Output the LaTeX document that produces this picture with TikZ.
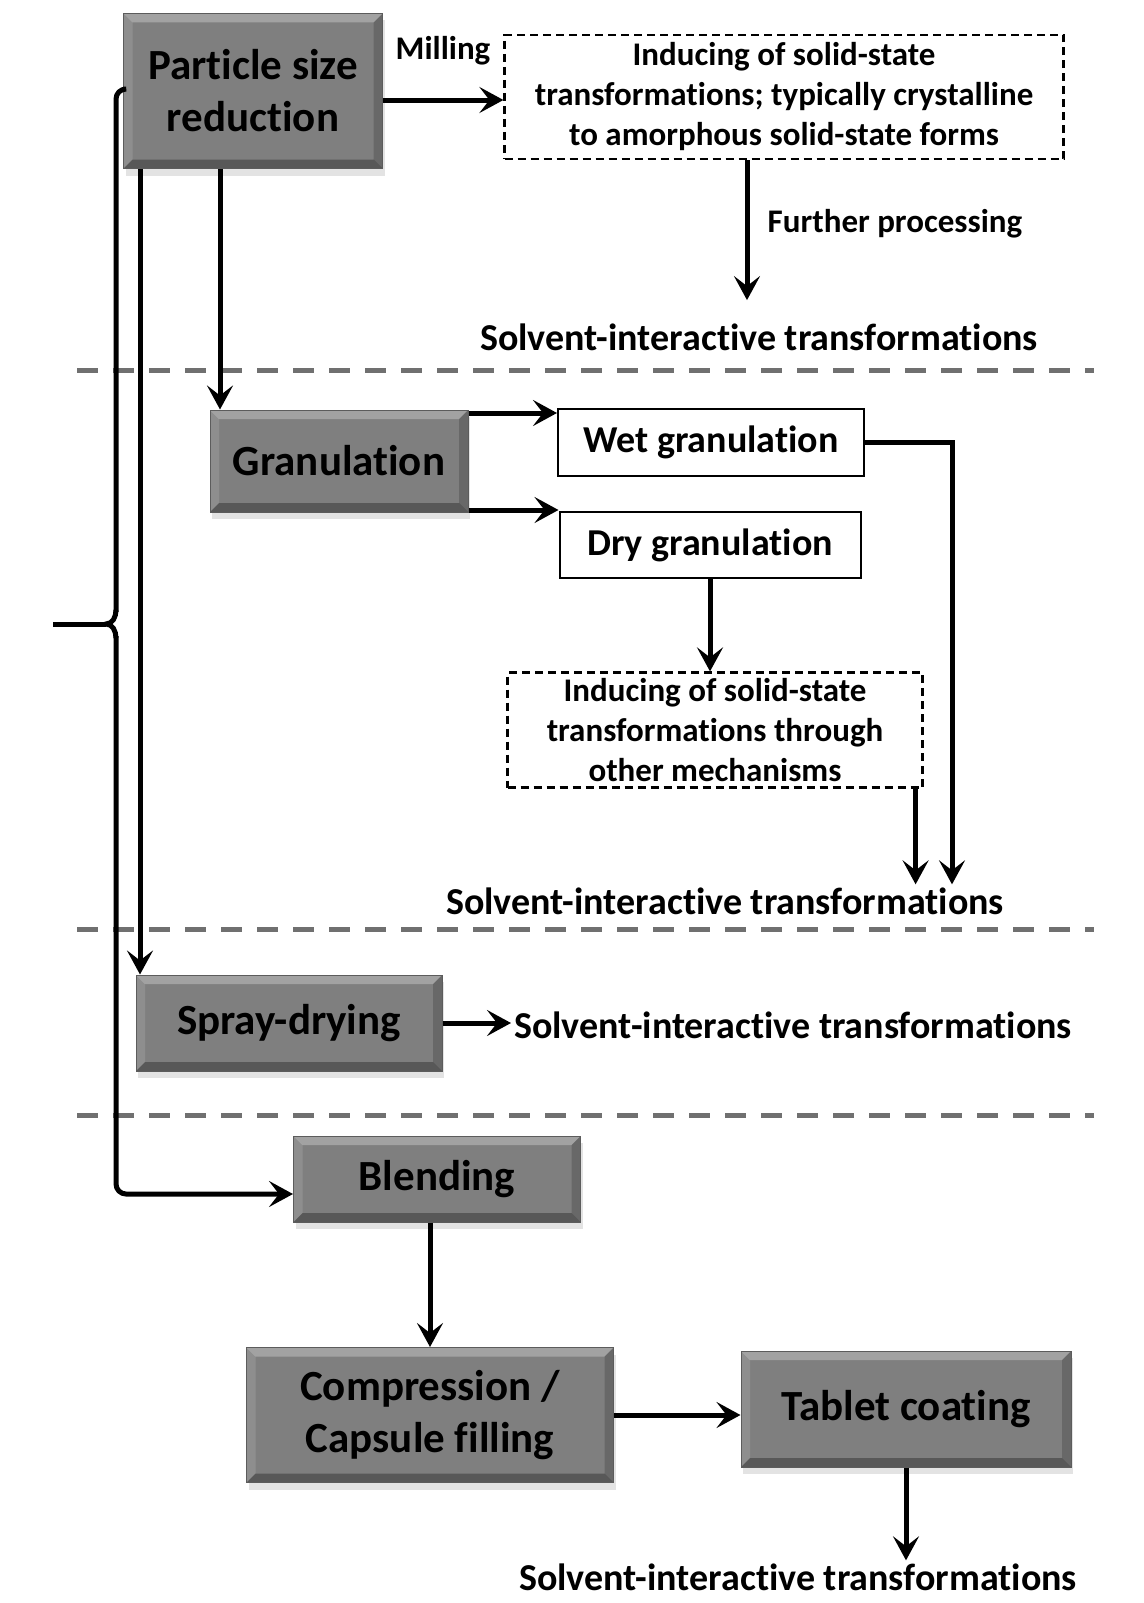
\documentclass[tikz,border=0pt]{standalone}
\usepackage{fontspec}
\setmainfont{Carlito}[Ligatures=NoCommon]
\usetikzlibrary{arrows.meta,positioning,shadows}
\definecolor{boxgray}{HTML}{7F7F7F}
\definecolor{boxedge}{HTML}{5C5C5C}
\definecolor{sepgray}{HTML}{707070}
\newcommand{\bigtxt}{\fontsize{43}{52}\selectfont\bfseries}
\newcommand{\midtxt}{\fontsize{38}{46}\selectfont\bfseries}
\newcommand{\smalltxt}{\fontsize{33}{40}\selectfont\bfseries}
\tikzset{
  bevel/.style={path picture={
    \fill[white,opacity=0.28] (path picture bounding box.north west) -- (path picture bounding box.north east)
      -- ([shift={(-9pt,-9pt)}]path picture bounding box.north east) -- ([shift={(9pt,-9pt)}]path picture bounding box.north west) -- cycle;
    \fill[white,opacity=0.12] (path picture bounding box.north west) -- (path picture bounding box.south west)
      -- ([shift={(9pt,9pt)}]path picture bounding box.south west) -- ([shift={(9pt,-9pt)}]path picture bounding box.north west) -- cycle;
    \fill[black,opacity=0.30] (path picture bounding box.south west) -- (path picture bounding box.south east)
      -- ([shift={(-9pt,9pt)}]path picture bounding box.south east) -- ([shift={(9pt,9pt)}]path picture bounding box.south west) -- cycle;
    \fill[black,opacity=0.18] (path picture bounding box.north east) -- (path picture bounding box.south east)
      -- ([shift={(-9pt,9pt)}]path picture bounding box.south east) -- ([shift={(-9pt,-9pt)}]path picture bounding box.north east) -- cycle;
  }},
  procbox/.style={draw=boxedge, fill=boxgray, line width=1pt, inner sep=0pt, align=center, font=\bigtxt,
    drop shadow={shadow xshift=2pt, shadow yshift=-7pt, opacity=0.22}, bevel},
  whitebox/.style={draw=black, fill=white, line width=2pt, inner sep=0pt, font=\midtxt},
  notebox/.style={draw=black, line width=2.2pt, dash pattern=on 8pt off 5pt, inner sep=0pt, align=center, font=\smalltxt},
  solvtxt/.style={font=\midtxt, inner sep=3pt},
  labtxt/.style={font=\smalltxt, inner sep=0pt},
  line/.style={line width=5pt},
  arr/.style={line, -{Stealth[length=24pt,width=26pt,inset=10pt]}},
  sep/.style={sepgray, line width=5pt, dash pattern=on 21pt off 15pt}
}
\begin{document}
\begin{tikzpicture}[x=1pt,y=-1pt]
  \useasboundingbox (0,0) rectangle (1143,1603);

  % separators
  \draw[sep] (77,370) -- (1094,370);
  \draw[sep] (77,929) -- (1094,929);
  \draw[sep] (77,1115) -- (1094,1115);

  % process steps
  \node[procbox, minimum width=259pt, minimum height=155pt] (psr) at (253,91) {Particle size\\reduction};
  \node[procbox, minimum width=258pt, minimum height=102pt] (gran) at (339,461) {Granulation};
  \node[procbox, minimum width=306pt, minimum height=96pt] (spray) at (289,1023) {Spray-drying};
  \node[procbox, minimum width=287pt, minimum height=86pt] (blend) at (437,1179) {Blending};
  \node[procbox, minimum width=367pt, minimum height=135pt] (comp) at (430,1415) {Compression /\\Capsule filling};
  \node[procbox, minimum width=330pt, minimum height=116pt] (tab) at (906,1409) {Tablet coating};

  % granulation routes
  \node[whitebox, minimum width=306pt, minimum height=67pt] (wet) at (711,442) {Wet granulation};
  \node[whitebox, minimum width=301pt, minimum height=66pt] (dry) at (710,545) {Dry granulation};

  % notes
  \node[notebox, minimum width=559pt, minimum height=124pt] (note1) at (784,97)
    {Inducing of solid-state\\transformations; typically crystalline\\to amorphous solid-state forms};
  \node[notebox, minimum width=415pt, minimum height=115pt] (note2) at (715,730)
    {Inducing of solid-state\\transformations through\\other mechanisms};
  \node[labtxt] (mill) at (443,51) {Milling};
  \node[labtxt] (further) at (895,224) {Further processing};

  \node[solvtxt] (solv1) at (759,337) {Solvent-interactive transformations};
  \node[solvtxt] (solv2) at (725,901) {Solvent-interactive transformations};
  \node[solvtxt, anchor=west] (solv3) at (511,1025) {Solvent-interactive transformations};
  \node[solvtxt] (solv4) at (798,1577) {Solvent-interactive transformations};

  % connectors
  \draw[arr] (psr.east |- 0,100) -- (note1.west |- 0,100);
  \draw[arr] ([xshift=-37pt]note1.south) -- ++(0,140);
  \draw[arr] (psr.south -| 220,0) -- (gran.north -| 220,0);
  \draw[arr] (psr.south -| 140,0) -- (spray.north -| 140,0);

  % brace line from particle size reduction to blending
  \coordinate (bracetip) at (106,624);
  \coordinate (bracefree) at (53,624);
  \draw[line] (bracefree) -- (bracetip);
  \draw[line, rounded corners=10pt] (psr.west |- 0,89) -| (116,612);
  \draw[line] (116,610) to[out=-90,in=0] (bracetip) to[out=0,in=90] (116,638);
  \draw[arr, rounded corners=10pt] (116,636) |- (blend.west |- 0,1194);

  \draw[arr] (gran.east |- 0,413) -- (wet.west |- 0,413);
  \draw[arr] (gran.east |- 0,510) -- (dry.west |- 0,510);
  \draw[arr] (wet.east) -| (solv2.north -| 952,0);
  \draw[arr] (dry.south) -- (dry.south |- note2.north);
  \coordinate (n2out) at ([xshift=-8pt]note2.south east);
  \draw[arr] (n2out) -- (n2out |- solv2.north);

  \draw[arr] (spray.east) -- (spray.east -| solv3.west);
  \draw[arr] (blend.south -| comp.north) -- (comp.north);
  \draw[arr] (comp.east) -- (comp.east -| tab.west);
  \draw[arr] (tab.south) -- (tab.south |- solv4.north);
\end{tikzpicture}
\end{document}
